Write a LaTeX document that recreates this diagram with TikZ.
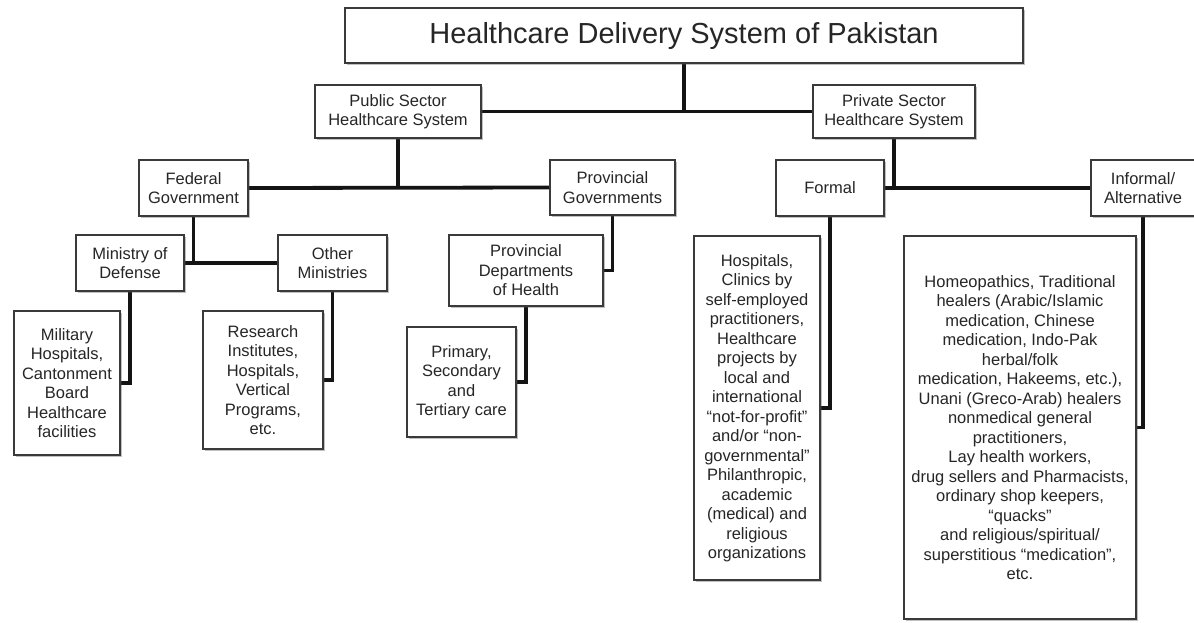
\documentclass[tikz,border=0pt]{standalone}
\usepackage{fontspec}
\setmainfont{Liberation Sans}
\usetikzlibrary{shadows,backgrounds}
\definecolor{ink}{HTML}{262626}
\definecolor{frame}{HTML}{3A3A3A}
\tikzset{
  box/.style={draw=frame, line width=1.6pt, fill=white, text=ink, align=center,
    inner sep=0pt, font=\fontsize{16.5}{19.5}\selectfont,
    drop shadow={shadow xshift=1.6pt, shadow yshift=-2pt, opacity=0.35, fill=black!70}},
  headbox/.style={box, font=\fontsize{29}{33}\selectfont},
  link/.style={line width=3.8pt, draw=black!92},
}
\begin{document}
\begin{tikzpicture}[x=1pt, y=-1pt]
\useasboundingbox (0,0) rectangle (1194,622);

% top level
\node[headbox, minimum width=678pt, minimum height=55pt] (title) at (684,35.5)
  {Healthcare Delivery System of Pakistan};

% sectors
\node[box, minimum width=166pt, minimum height=53pt] (pub) at (398,111.5)
  {Public Sector\\Healthcare System};
\node[box, minimum width=162pt, minimum height=53pt] (priv) at (894,111.5)
  {Private Sector\\Healthcare System};

% public sector branches
\node[box, minimum width=109pt, minimum height=56pt] (fed) at (193.5,188)
  {Federal\\Government};
\node[box, minimum width=125pt, minimum height=55pt] (pgov) at (612.5,187.5)
  {Provincial\\Governments};
\node[box, minimum width=108pt, minimum height=56pt] (mod) at (130,263)
  {Ministry of\\Defense};
\node[box, minimum width=109pt, minimum height=56pt] (oth) at (332.5,263)
  {Other\\Ministries};
\node[box, minimum width=154pt, minimum height=71pt] (pdep) at (526,270.5)
  {Provincial\\Departments\\of Health};
\node[box, minimum width=106pt, minimum height=144pt] (mil) at (67,383)
  {Military\\Hospitals,\\Cantonment\\Board\\Healthcare\\facilities};
\node[box, minimum width=120pt, minimum height=138pt] (res) at (263,380)
  {Research\\Institutes,\\Hospitals,\\Vertical\\Programs,\\etc.};
\node[box, minimum width=109pt, minimum height=110pt] (prim) at (461.5,382)
  {Primary,\\Secondary\\and\\Tertiary care};

% private sector branches
\node[box, minimum width=108pt, minimum height=56pt] (formal) at (830,188)
  {Formal};
\node[box, minimum width=104pt, minimum height=56pt] (inf) at (1143,188)
  {Informal/\\Alternative};
\node[box, minimum width=126pt, minimum height=344pt] (hosp) at (757,408)
  {Hospitals,\\Clinics by\\self-employed\\practitioners,\\Healthcare\\projects by\\local and\\international\\“not-for-profit”\\and/or “non-\\governmental”\\Philanthropic,\\academic\\(medical) and\\religious\\organizations};
\node[box, minimum width=232pt, minimum height=383pt] (homeo) at (1020,427.5)
  {Homeopathics, Traditional\\healers (Arabic/Islamic\\medication, Chinese\\medication, Indo-Pak\\herbal/folk\\medication, Hakeems, etc.),\\Unani (Greco-Arab) healers\\nonmedical general\\practitioners,\\Lay health workers,\\drug sellers and Pharmacists,\\ordinary shop keepers,\\“quacks”\\and religious/spiritual/\\superstitious “medication”,\\etc.};

% connectors, behind the boxes
\begin{scope}[on background layer]
  \fill[white] (0,0) rectangle (1194,622);
  \draw[link] (pub.east) -- (priv.west);
  \draw[link] (title.south) -- (title.south |- pub.east);
  \draw[link] (fed.east) -- (pgov.west);
  \draw[link] (pub.south) -- (pub.south |- fed.east);
  \draw[link] (formal.east) -- (inf.west);
  \draw[link] (priv.south) -- (priv.south |- formal.east);
  \draw[link] (mod.east) -- (oth.west);
  \draw[link] (fed.south) -- (fed.south |- mod.east);
  \draw[link] (mod.south) |- (mil.east);
  \draw[link] (oth.south) |- (res.east);
  \draw[link] (pgov.south) |- (pdep.east);
  \draw[link] (pdep.south) |- (prim.east);
  \draw[link] (formal.south) |- (hosp.east);
  \draw[link] (inf.south) |- (homeo.east);
\end{scope}
\end{tikzpicture}
\end{document}
